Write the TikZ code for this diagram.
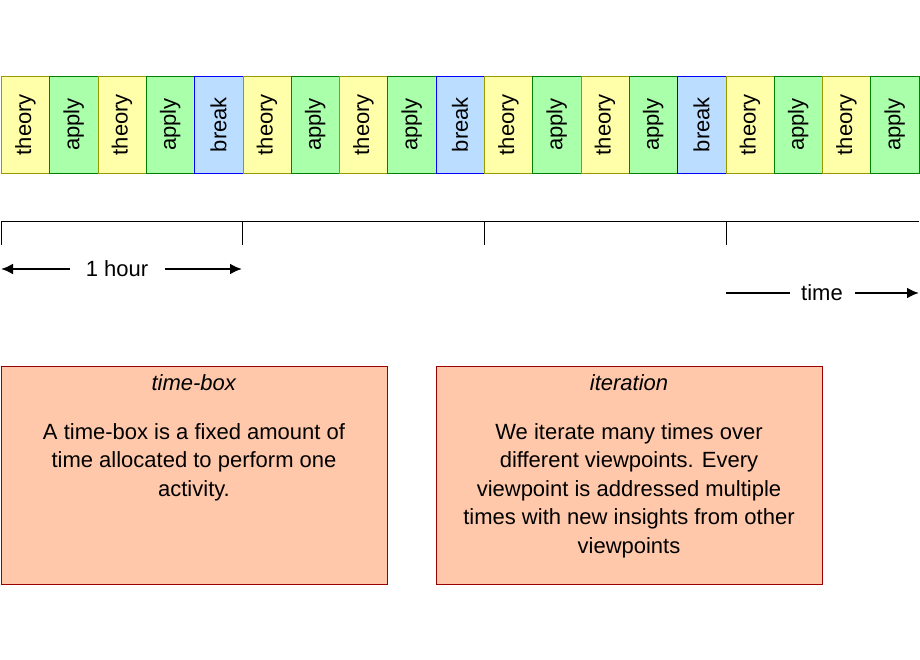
\documentclass[tikz,border=0pt]{standalone}
\usepackage{fontspec}
\setmainfont{Liberation Sans}
\usetikzlibrary{arrows.meta}
\definecolor{thf}{HTML}{FFFFAA}\definecolor{thd}{HTML}{999900}
\definecolor{apf}{HTML}{AAFFAA}\definecolor{apd}{HTML}{008000}
\definecolor{brf}{HTML}{BBDDFF}\definecolor{brd}{HTML}{0000FF}
\definecolor{nof}{HTML}{FFC8AA}\definecolor{nod}{HTML}{990000}
\begin{document}
\begin{tikzpicture}[x=1pt,y=-1pt,
  seg/.style={draw,minimum width=48.3pt,minimum height=97pt,inner sep=0pt,anchor=north west},
  lbl/.style={rotate=90,font=\fontsize{22}{26}\selectfont},
  theory/.style={seg,fill=thf,draw=thd},
  apply/.style={seg,fill=apf,draw=apd},
  break/.style={seg,fill=brf,draw=brd},
  note/.style={draw=nod,fill=nof,anchor=north west,minimum width=386pt,minimum height=218pt},
  txt/.style={font=\fontsize{22}{28.5}\selectfont,align=center,anchor=north,inner sep=0pt},
  arr/.style={line width=2.5pt,-{Latex[length=12pt,width=11pt]}}]
\useasboundingbox (0,0) rectangle (920,660);
\foreach \t [count=\i from 0] in {theory,apply,theory,apply,break,theory,apply,theory,apply,break,theory,apply,theory,apply,break,theory,apply,theory,apply}{
  \node[\t] (s\i) at ({1+\i*48.3},76) {};
  \node[lbl] at (s\i.center) {\t};
}
\coordinate (l0) at (1,221); \coordinate (l1) at (919,221);
\draw (l0) -- (l1);
\foreach \x [count=\j] in {1,242,484,726}{
  \coordinate (t\j a) at (\x,221); \coordinate (t\j b) at (\x,245);
  \draw (t\j a) -- (t\j b);
}
\node[font=\fontsize{22}{26}\selectfont] (hr) at (117,269) {1 hour};
\coordinate (h0) at (1,269); \coordinate (h1) at (242,269);
\draw[arr] (70,269) -- (h0);
\draw[arr] (165,269) -- (h1);
\node[font=\fontsize{22}{26}\selectfont] (tm) at (822,293) {time};
\coordinate (m0) at (726,293); \coordinate (m1) at (919,293);
\draw[line width=2.5pt] (m0) -- (790,293);
\draw[arr] (855,293) -- (m1);
\node[note] (b1) at (1,366) {};
\node[note] (b2) at (436,366) {};
\node[txt] at (194,374) {\textit{time-box}};
\node[txt] at (194,423) {A time-box is a fixed amount of\\time allocated to perform one\\activity.};
\node[txt] at (629,374) {\textit{iteration}};
\node[txt] at (629,423) {We iterate many times over\\different viewpoints. Every\\viewpoint is addressed multiple\\times with new insights from other\\viewpoints};
\end{tikzpicture}
\end{document}
